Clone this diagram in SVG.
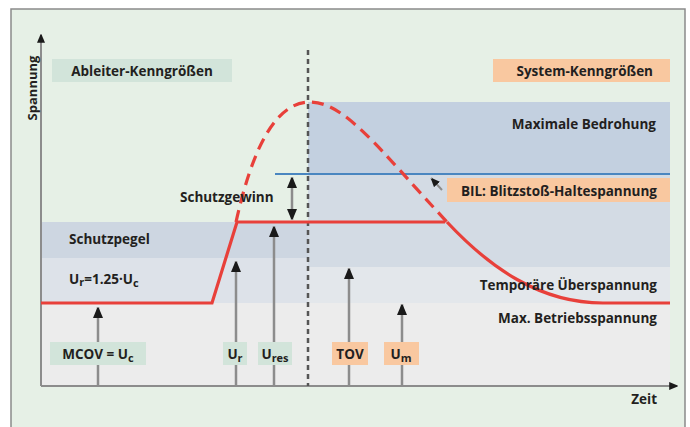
<svg xmlns="http://www.w3.org/2000/svg" width="690" height="427" viewBox="0 0 690 427">
<defs>
<style>
text{font-family:"Open Sans","Noto Sans","Liberation Sans",sans-serif;font-weight:700;fill:#231f20;font-size:13.5px}
.r{text-anchor:end}
.c{text-anchor:middle}
.arr{stroke:#8c8c8c;stroke-width:2.5;fill:none}
.red{stroke:#e8403a;stroke-width:3.2;fill:none}
.green{fill:#d2e4da}
.peach{fill:#f9c8a0}
</style>
<marker id="ah" viewBox="0 0 10 12" refX="11" refY="5" markerWidth="4" markerHeight="4.8" markerUnits="strokeWidth" orient="auto-start-reverse">
<path d="M0,0 L12,5 L0,10 z" fill="#1a1a1a"/>
</marker>
</defs>
<rect x="0" y="0" width="690" height="427" fill="#ffffff"/>
<rect x="11" y="9" width="674" height="430" fill="#e6f0e6" stroke="#8a8a8a" stroke-width="1.5"/>
<g id="bands">
<rect x="41" y="222" width="267" height="36" fill="#cdd6e1"/>
<rect x="41" y="258" width="267" height="45" fill="#dde2e9"/>
<rect x="41" y="303" width="629" height="82" fill="#ececec"/>
<rect x="308" y="102" width="362" height="72" fill="#c3d0e0"/>
<rect x="308" y="174" width="362" height="93" fill="#d3dbe4"/>
<rect x="308" y="267" width="362" height="36" fill="#e3e7eb"/>
</g>
<g id="connectors">
<line x1="41" y1="386" x2="41" y2="34" stroke="#8c8c8c" stroke-width="2" marker-end="url(#ah)"/>
<line x1="41" y1="386" x2="678" y2="386" stroke="#8c8c8c" stroke-width="2" marker-end="url(#ah)"/>
<line x1="308" y1="50" x2="308" y2="386" stroke="#555" stroke-width="2.5" stroke-dasharray="5,4"/>
<line x1="275" y1="174" x2="670" y2="174" stroke="#4a86c0" stroke-width="2.2"/>
<path class="red" d="M41,303 L212,303 L237,222 L445,222"/>
<path class="red" d="M447,222 C490,268 540,303 603,303 L670,303"/>
<path class="red" stroke-dasharray="12,7" d="M236,222 C252,150 275,102 310,102 C345,102 380,150 447,222"/>
<line class="arr" x1="98" y1="385" x2="98" y2="307" marker-end="url(#ah)"/>
<line class="arr" x1="236" y1="385" x2="236" y2="261" marker-end="url(#ah)"/>
<line class="arr" x1="274" y1="385" x2="274" y2="226" marker-end="url(#ah)"/>
<line class="arr" x1="349" y1="385" x2="349" y2="268" marker-end="url(#ah)"/>
<line class="arr" x1="402" y1="385" x2="402" y2="304" marker-end="url(#ah)"/>
<line class="arr" x1="292" y1="177" x2="292" y2="220" marker-start="url(#ah)" marker-end="url(#ah)"/>
<line stroke="#8c8c8c" stroke-width="2" x1="442" y1="190" x2="431" y2="178" marker-end="url(#ah)"/>
</g>
<g id="y-label"><text transform="translate(37,88) rotate(-90)" class="c" style="font-size:13px">Spannung</text></g>
<g id="ableiter"><rect class="green" x="52" y="59" width="180" height="23" fill="#cfe0d9"/><text x="142" y="76" class="c">Ableiter-Kenngrößen</text></g>
<g id="system"><rect class="peach" x="493" y="59" width="177" height="23"/><text x="653" y="76" class="r">System-Kenngrößen</text></g>
<g id="max-bedrohung"><text x="656" y="129" class="r">Maximale Bedrohung</text></g>
<g id="bil"><rect class="peach" x="447" y="178" width="223" height="24"/><text x="657" y="196" class="r">BIL: Blitzstoß-Haltespannung</text></g>
<g id="schutzgewinn"><text x="180" y="202">Schutzgewinn</text></g>
<g id="schutzpegel"><text x="69" y="244">Schutzpegel</text></g>
<g id="ur-def"><text x="69" y="284">U<tspan dy="2" font-size="11">r</tspan><tspan dy="-2">=1.25·U</tspan><tspan dy="3" font-size="11">c</tspan></text></g>
<g id="tov-label"><text x="657" y="290" class="r">Temporäre Überspannung</text></g>
<g id="betrieb"><text x="657" y="323" class="r">Max. Betriebsspannung</text></g>
<g id="zeit"><text x="657" y="404" class="r">Zeit</text></g>
<g id="mcov"><rect class="green" x="50" y="342" width="96" height="23"/><text x="98" y="359" class="c">MCOV = U<tspan dy="3" font-size="11">c</tspan></text></g>
<g id="ur"><rect class="green" x="223" y="342" width="24" height="23"/><text x="235" y="359" class="c">U<tspan dy="3" font-size="11">r</tspan></text></g>
<g id="ures"><rect class="green" x="258" y="342" width="34" height="23"/><text x="275" y="359" class="c">U<tspan dy="3" font-size="11">res</tspan></text></g>
<g id="tov"><rect class="peach" x="332" y="342" width="36" height="23"/><text x="350" y="359" class="c">TOV</text></g>
<g id="um"><rect class="peach" x="384" y="342" width="35" height="23"/><text x="401" y="359" class="c">U<tspan dy="3" font-size="11">m</tspan></text></g>
</svg>
